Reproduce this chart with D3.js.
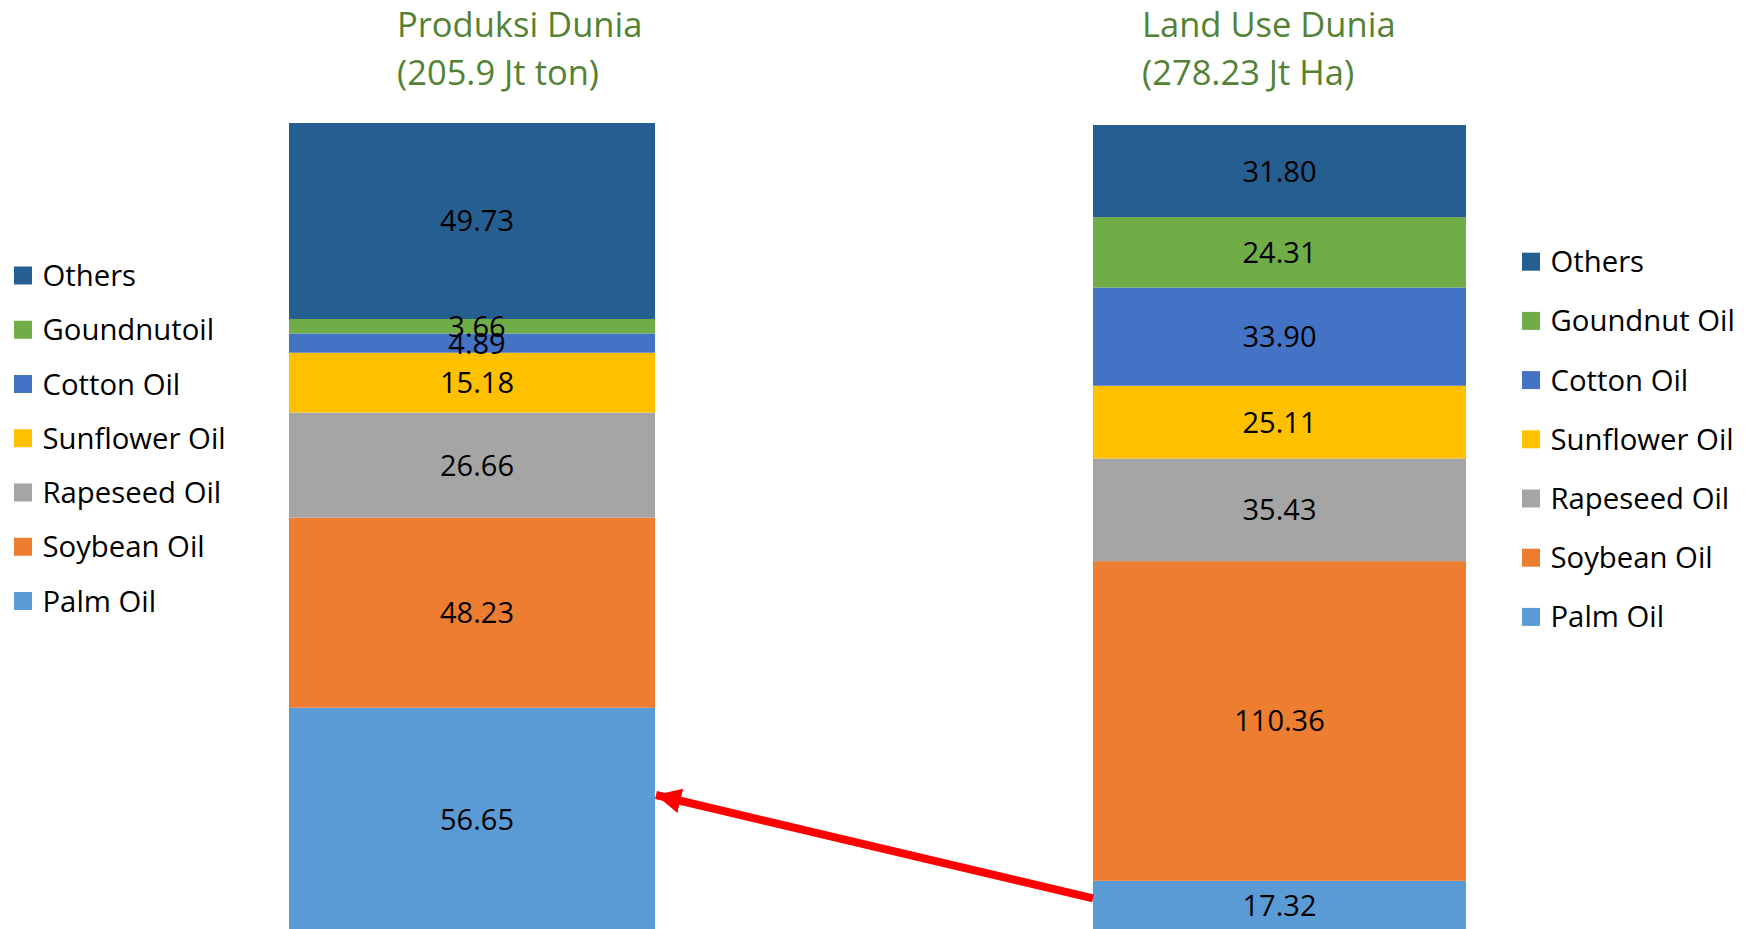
<!DOCTYPE html>
<html>
<head>
<meta charset="utf-8">
<script src="https://cdn.jsdelivr.net/npm/d3@7"></script>
<style>
  html, body { margin: 0; padding: 0; background: #fff; }
  svg { display: block; }
  text { font-family: "Open Sans", "Noto Sans", sans-serif; }
</style>
</head>
<body>
<svg id="chart" width="1747" height="929"></svg>
<script>
// Categories, bottom to top of each stacked bar
const categories = ["Palm Oil", "Soybean Oil", "Rapeseed Oil", "Sunflower Oil", "Cotton Oil", "Groundnut Oil", "Others"];
const leftLegendLabels = ["Palm Oil", "Soybean Oil", "Rapeseed Oil", "Sunflower Oil", "Cotton Oil", "Goundnutoil", "Others"];
const rightLegendLabels = ["Palm Oil", "Soybean Oil", "Rapeseed Oil", "Sunflower Oil", "Cotton Oil", "Goundnut Oil", "Others"];
const productionValues = [56.65, 48.23, 26.66, 15.18, 4.89, 3.66, 49.73];   // Jt ton
const landUseValues = [17.32, 110.36, 35.43, 25.11, 33.90, 24.31, 31.80];  // Jt Ha
const leftTitle = ["Produksi Dunia", "(205.9 Jt ton)"];
const rightTitle = ["Land Use Dunia", "(278.23 Jt Ha)"];
const colors = ["#5B9BD5", "#ED7D31", "#A5A5A5", "#FFC000", "#4472C4", "#70AD47", "#255E91"];

const svg = d3.select("#chart");
const color = d3.scaleOrdinal().domain(categories).range(colors);

function drawBar(values, opts) {
  const row = {};
  categories.forEach((c, i) => row[c] = values[i]);
  const series = d3.stack().keys(categories)([row]);
  const total = d3.sum(values);
  const y = d3.scaleLinear().domain([0, total]).range([opts.bottom, opts.top]);
  const x = d3.scaleBand().domain(["bar"]).range([opts.left, opts.right]).padding(0);
  const g = svg.append("g");
  g.selectAll("rect").data(series).join("rect")
    .attr("x", x("bar"))
    .attr("width", x.bandwidth())
    .attr("y", d => y(d[0][1]))
    .attr("height", d => y(d[0][0]) - y(d[0][1]))
    .attr("fill", d => color(d.key));
  g.selectAll("text.lbl").data(series).join("text")
    .attr("class", "lbl")
    .attr("x", x("bar") + x.bandwidth() / 2 + opts.labelShift)
    .attr("y", d => (y(d[0][0]) + y(d[0][1])) / 2)
    .attr("dy", "0.36em")
    .attr("text-anchor", "middle")
    .attr("font-size", 29)
    .attr("fill", "#000")
    .text(d => d3.format(".2f")(d[0][1] - d[0][0]));
  // title
  const t = svg.append("text")
    .attr("x", opts.titleX)
    .attr("y", 37)
    .attr("font-size", 34.5)
    .attr("fill", "#548235");
  opts.title.forEach((line, i) => {
    t.append("tspan").attr("x", opts.titleX).attr("y", 37 + i * 48).text(line);
  });
  // legend (top to bottom: Others ... Palm)
  const order = categories.map((c, i) => i).reverse();
  const lg = svg.append("g");
  order.forEach((idx, k) => {
    const cy = opts.legendTop + k * opts.legendGap;
    lg.append("rect")
      .attr("x", opts.legendX).attr("y", cy - 9)
      .attr("width", 18).attr("height", 18)
      .attr("fill", colors[idx]);
    lg.append("text")
      .attr("x", opts.legendX + 28.5).attr("y", cy)
      .attr("dy", "0.36em")
      .attr("font-size", 29.3)
      .attr("fill", "#000")
      .text(opts.legendLabels[idx]);
  });
  return { x, y };
}

const L = drawBar(productionValues, {
  left: 289, right: 655, top: 123, bottom: 931, labelShift: 5,
  title: leftTitle, titleX: 397,
  legendX: 14, legendTop: 275.5, legendGap: 54.25, legendLabels: leftLegendLabels
});
const R = drawBar(landUseValues, {
  left: 1093, right: 1466, top: 125, bottom: 931, labelShift: 0,
  title: rightTitle, titleX: 1142,
  legendX: 1522, legendTop: 261.7, legendGap: 59.2, legendLabels: rightLegendLabels
});

// red arrow from the land-use palm segment to the production palm segment
const defs = svg.append("defs");
defs.append("marker")
  .attr("id", "arrowhead")
  .attr("viewBox", "0 0 10 10")
  .attr("refX", 10).attr("refY", 5)
  .attr("markerUnits", "userSpaceOnUse")
  .attr("markerWidth", 25).attr("markerHeight", 25)
  .attr("orient", "auto")
  .append("path").attr("d", "M0,0 L10,5 L0,10 Z").attr("fill", "#FF0000");

const palmLandMid = (R.y(0) + R.y(landUseValues[0])) / 2;
const startX = R.x("bar");
const endX = L.x("bar") + L.x.bandwidth() + 1;
svg.append("line")
  .attr("x1", startX).attr("y1", palmLandMid - 7.5)
  .attr("x2", endX).attr("y2", 795)
  .attr("stroke", "#FF0000")
  .attr("stroke-width", 8)
  .attr("marker-end", "url(#arrowhead)");
</script>
</body>
</html>
